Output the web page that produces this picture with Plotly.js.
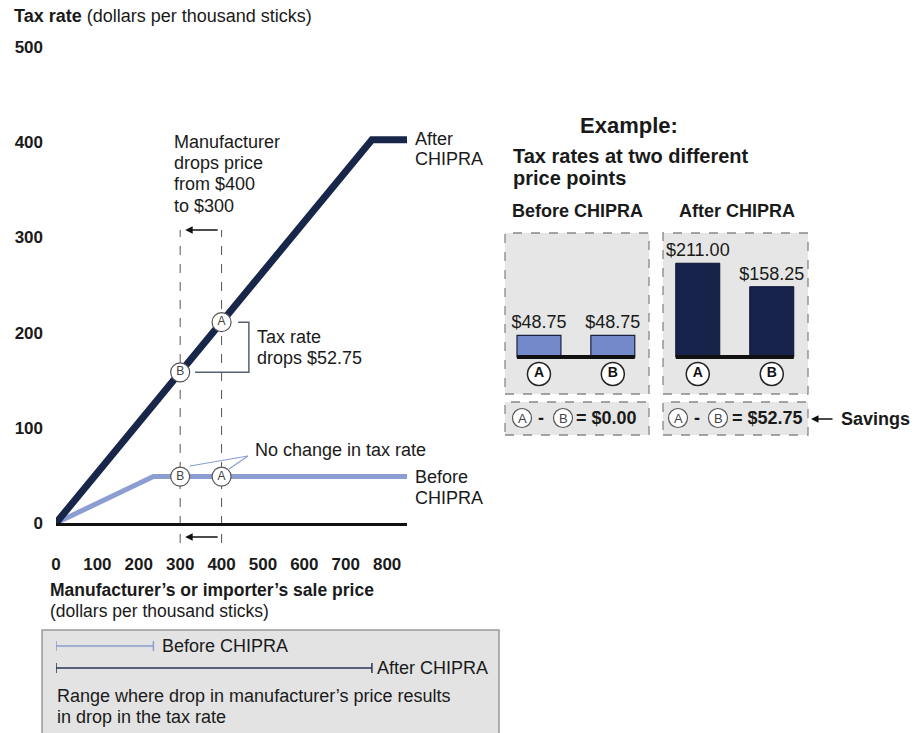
<!DOCTYPE html>
<html>
<head>
<meta charset="utf-8">
<script src="https://cdn.plot.ly/plotly-3.0.1.min.js"></script>
<style>
html,body{margin:0;padding:0;background:#fff;}
#chart{width:920px;height:733px;}
</style>
</head>
<body>
<div id="chart"></div>
<script>
// ---------- data ----------
const priceTicks = [0, 100, 200, 300, 400, 500, 600, 700, 800];
const taxTicks = [0, 100, 200, 300, 400, 500];

const beforeX = [0, 235.3, 848];
const beforeY = [0, 48.75, 48.75];
const afterX = [0, 763.2, 848];
const afterY = [0, 402.6, 402.6];

const pointLabels = ['A', 'B'];
const pointPrices = [400, 300];
const beforeTax = [48.75, 48.75];
const afterTax = [211.00, 158.25];

const beforeRangeEnd = 235.3;
const afterRangeEnd = 763.2;

const savingsBefore = '$0.00';
const savingsAfter = '$52.75';

// ---------- helpers ----------
const W = 920, H = 733;
const px = x => x / W;
const py = y => 1 - y / H;
const FONT = 'Liberation Sans, Arial, Helvetica, sans-serif';
const NAVY = '#18264a';
const LIGHT = '#8b9dd1';

function ann(text, x, y, o) {
  o = o || {};
  return Object.assign({
    text: text, x: px(x), y: py(y), xref: 'paper', yref: 'paper',
    xanchor: 'left', yanchor: 'middle', showarrow: false, align: 'left',
    font: {family: FONT, size: o.size || 18, color: o.color || '#1a1a1a'}
  }, o.extra || {});
}

// ---------- traces ----------
const traces = [
  {x: beforeX, y: beforeY, type: 'scatter', mode: 'lines',
   line: {color: LIGHT, width: 5}, hoverinfo: 'skip'},
  {x: afterX, y: afterY, type: 'scatter', mode: 'lines',
   line: {color: NAVY, width: 7}, hoverinfo: 'skip'},
  {x: pointPrices.concat(pointPrices), y: afterTax.concat(beforeTax),
   text: pointLabels.concat(pointLabels), type: 'scatter', mode: 'markers+text',
   textposition: 'middle center', cliponaxis: false,
   textfont: {family: FONT, size: 12, color: '#444'},
   marker: {size: 19, color: '#fff', line: {color: '#555', width: 1.2}}, hoverinfo: 'skip'},
  // example bars
  {x: pointLabels, y: beforeTax, type: 'bar', xaxis: 'x2', yaxis: 'y2', width: 0.595,
   marker: {color: '#7489c9', line: {color: '#1b2240', width: 1.2}},
   text: beforeTax.map(v => '$' + v.toFixed(2)), textposition: 'outside', cliponaxis: false,
   constraintext: 'none',
   textfont: {family: FONT, size: 18, color: '#1a1a1a'}, hoverinfo: 'skip'},
  {x: pointLabels, y: afterTax, type: 'bar', xaxis: 'x3', yaxis: 'y3', width: 0.595,
   marker: {color: '#17234a', line: {color: '#0d1330', width: 1}},
   text: afterTax.map(v => '$' + v.toFixed(2)), textposition: 'outside', cliponaxis: false,
   constraintext: 'none',
   textfont: {family: FONT, size: 18, color: '#1a1a1a'}, hoverinfo: 'skip'},
  {x: pointLabels, y: [-38, -38], type: 'scatter', mode: 'markers+text', xaxis: 'x2', yaxis: 'y2',
   text: pointLabels.map(t => '<b>' + t + '</b>'), textposition: 'middle center', cliponaxis: false,
   textfont: {family: FONT, size: 14, color: '#111'},
   marker: {size: 23, color: '#fff', line: {color: '#222', width: 1.5}}, hoverinfo: 'skip'},
  {x: pointLabels, y: [-38, -38], type: 'scatter', mode: 'markers+text', xaxis: 'x3', yaxis: 'y3',
   text: pointLabels.map(t => '<b>' + t + '</b>'), textposition: 'middle center', cliponaxis: false,
   textfont: {family: FONT, size: 14, color: '#111'},
   marker: {size: 23, color: '#fff', line: {color: '#222', width: 1.5}}, hoverinfo: 'skip'}
];

// ---------- shapes ----------
const shapes = [];
// legend box
shapes.push({type: 'rect', xref: 'paper', yref: 'paper', x0: px(42), x1: px(499), y0: py(745), y1: py(630),
  fillcolor: '#e3e3e3', line: {color: '#999', width: 1.5}, layer: 'below'});
// example panels
[[505, 649], [663, 808]].forEach(function (r) {
  shapes.push({type: 'rect', xref: 'paper', yref: 'paper', x0: px(r[0]), x1: px(r[1]), y0: py(394), y1: py(233),
    fillcolor: '#e6e6e6', line: {color: '#888', width: 1.3, dash: 'dash'}, layer: 'below'});
  shapes.push({type: 'rect', xref: 'paper', yref: 'paper', x0: px(r[0]), x1: px(r[1]), y0: py(435), y1: py(402),
    fillcolor: '#e6e6e6', line: {color: '#888', width: 1.3, dash: 'dash'}, layer: 'below'});
});
// baselines under bars
['2', '3'].forEach(function (n) {
  shapes.push({type: 'line', xref: 'x' + n, yref: 'y' + n, x0: -0.2975, x1: 1.2975, y0: 0, y1: 0,
    line: {color: '#111', width: 4}});
});
// dashed guide lines
pointPrices.forEach(function (p) {
  shapes.push({type: 'line', xref: 'x', yref: 'paper', x0: p, x1: p, y0: py(543), y1: py(230),
    line: {color: '#555', width: 1, dash: 'dash'}, layer: 'below'});
});
// bracket
shapes.push({type: 'path', xref: 'x', yref: 'y',
  path: 'M 440,' + afterTax[0] + ' L 466,' + afterTax[0] + ' L 466,' + afterTax[1] + ' L 336,' + afterTax[1],
  line: {color: '#556070', width: 1.5}});
// leader lines "No change"
shapes.push({type: 'line', xref: 'paper', yref: 'paper', x0: px(248), y0: py(456), x1: px(190), y1: py(466),
  line: {color: LIGHT, width: 1.2}});
shapes.push({type: 'line', xref: 'paper', yref: 'paper', x0: px(248), y0: py(456), x1: px(229), y1: py(469),
  line: {color: LIGHT, width: 1.2}});
// range lines in legend box
[[beforeRangeEnd, 646, LIGHT], [afterRangeEnd, 668, '#2a3555']].forEach(function (r) {
  shapes.push({type: 'line', xref: 'x', yref: 'paper', x0: 0, x1: r[0], y0: py(r[1]), y1: py(r[1]),
    line: {color: r[2], width: 1.5}});
  [0, r[0]].forEach(function (xx) {
    shapes.push({type: 'line', xref: 'x', yref: 'paper', x0: xx, x1: xx, y0: py(r[1] - 5), y1: py(r[1] + 5),
      line: {color: r[2], width: 1.5}});
  });
});
// circles in formula panels
[[522, 'A'], [563, 'B'], [678, 'A'], [718, 'B']].forEach(function (c) {
  shapes.push({type: 'circle', xref: 'paper', yref: 'paper', x0: px(c[0] - 9.5), x1: px(c[0] + 9.5),
    y0: py(418 + 9.5), y1: py(418 - 9.5), fillcolor: '#fff', line: {color: '#555', width: 1.2}});
});

// ---------- annotations ----------
const annotations = [
  ann('<b>Tax rate</b> (dollars per thousand sticks)', 12, 16),
  ann('Manufacturer', 172, 142),
  ann('drops price', 172, 163),
  ann('from $400', 172, 184),
  ann('to $300', 172, 206),
  ann('After', 413, 139),
  ann('CHIPRA', 413, 159),
  ann('Before', 413, 477),
  ann('CHIPRA', 413, 498),
  ann('Tax rate', 255, 337),
  ann('drops $52.75', 255, 358),
  ann('No change in tax rate', 253, 450),
  ann('<b>Manufacturer\u2019s or importer\u2019s sale price</b>', 48, 590, {size: 17.5}),
  ann('(dollars per thousand sticks)', 48, 611, {size: 17.5}),
  ann('Before CHIPRA', 160, 646),
  ann('After CHIPRA', 375, 668),
  ann('Range where drop in manufacturer\u2019s price results', 55, 696),
  ann('in drop in the tax rate', 55, 717),
  ann('<b>Example:</b>', 578, 126, {size: 22}),
  ann('<b>Tax rates at two different</b>', 511, 156, {size: 20}),
  ann('<b>price points</b>', 511, 178, {size: 20}),
  ann('<b>Before CHIPRA</b>', 510, 211),
  ann('<b>After CHIPRA</b>', 677, 211),
  ann('<b>-</b>', 536, 418),
  ann('<b>= ' + savingsBefore + '</b>', 574, 418),
  ann('<b>-</b>', 692, 418),
  ann('<b>= ' + savingsAfter + '</b>', 730, 418),
  ann('<b>Savings</b>', 839, 419),
  // arrows
  {text: '', xref: 'x', yref: 'paper', x: pointPrices[1], y: py(230), ax: 39, ay: 0,
   showarrow: true, arrowhead: 2, arrowsize: 1, arrowwidth: 1.5, arrowcolor: '#111', standoff: 5},
  {text: '', xref: 'x', yref: 'paper', x: pointPrices[1], y: py(537), ax: 39, ay: 0,
   showarrow: true, arrowhead: 2, arrowsize: 1, arrowwidth: 1.5, arrowcolor: '#111', standoff: 5},
  {text: '', xref: 'paper', yref: 'paper', x: px(811), y: py(419), ax: 23, ay: 0,
   showarrow: true, arrowhead: 2, arrowsize: 1, arrowwidth: 1.5, arrowcolor: '#111', standoff: 0}
];
[[522, 'A'], [563, 'B'], [678, 'A'], [718, 'B']].forEach(function (c) {
  annotations.push({text: c[1], x: px(c[0]), y: py(418), xref: 'paper', yref: 'paper',
    xanchor: 'center', yanchor: 'middle', showarrow: false,
    font: {family: FONT, size: 13, color: '#444'}});
});

// ---------- layout ----------
const hidden = {visible: false, fixedrange: true};
const layout = {
  width: W, height: H,
  margin: {l: 0, r: 0, t: 0, b: 0},
  paper_bgcolor: '#fff', plot_bgcolor: 'rgba(0,0,0,0)',
  showlegend: false,
  font: {family: FONT, color: '#1a1a1a'},
  xaxis: {domain: [px(56), px(407)], range: [0, 848], anchor: 'y',
    tickvals: priceTicks, ticks: '', ticklabelstandoff: 24,
    tickfont: {family: FONT, size: 17, color: '#1a1a1a', weight: 'bold'},
    showline: true, linecolor: '#111', linewidth: 2.5, showgrid: false, zeroline: false,
    automargin: false, fixedrange: true},
  yaxis: {domain: [py(523), py(47)], range: [0, 500], anchor: 'x',
    tickvals: taxTicks, ticks: '', ticklabelstandoff: 12,
    tickfont: {family: FONT, size: 17, color: '#1a1a1a', weight: 'bold'},
    showline: false, showgrid: false, zeroline: false, automargin: false, fixedrange: true},
  xaxis2: Object.assign({domain: [px(505), px(649)], range: [-0.46, 1.49], anchor: 'y2', type: 'category'}, hidden),
  yaxis2: Object.assign({domain: [py(394), py(233)], range: [-83, 279], anchor: 'x2'}, hidden),
  xaxis3: Object.assign({domain: [px(663), px(808)], range: [-0.47, 1.49], anchor: 'y3', type: 'category'}, hidden),
  yaxis3: Object.assign({domain: [py(394), py(233)], range: [-83, 279], anchor: 'x3'}, hidden),
  shapes: shapes,
  annotations: annotations
};

Plotly.newPlot('chart', traces, layout, {staticPlot: true, displayModeBar: false});
</script>
</body>
</html>
